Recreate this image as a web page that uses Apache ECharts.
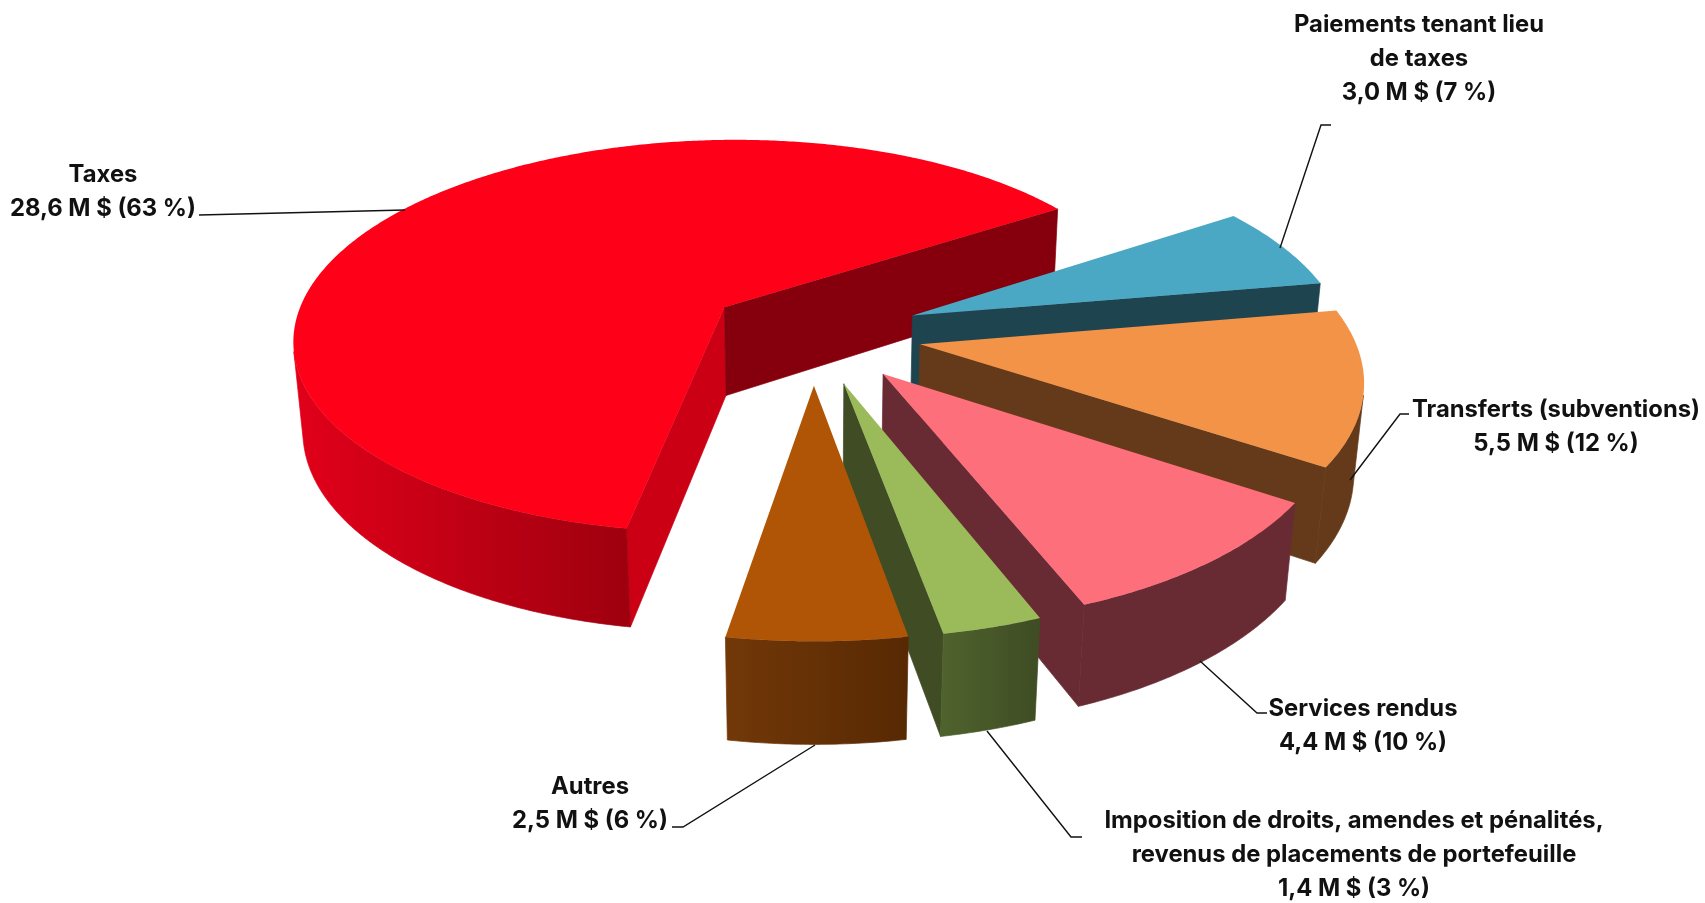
<!DOCTYPE html>
<html>
<head>
<meta charset="utf-8">
<style>
  html, body { margin: 0; padding: 0; background: #fff; }
  #chart { width: 1705px; height: 903px; }
</style>
<script src="https://cdn.jsdelivr.net/npm/echarts@6/dist/echarts.min.js"></script>
</head>
<body>
<div id="chart"></div>
<script>
// revenue breakdown, in millions of dollars
var categories = [
  "Taxes",
  "Paiements tenant lieu\nde taxes",
  "Transferts (subventions)",
  "Services rendus",
  "Imposition de droits, amendes et pénalités,\nrevenus de placements de portefeuille",
  "Autres"
];
var amounts = [28.6, 3.0, 5.5, 4.4, 1.4, 2.5];
var shares = [63, 7, 12, 10, 3, 6];

var topColors = ["#ff0019", "#4aa8c4", "#f39347", "#fd6f7b", "#9bba59", "#b05505"];
var wallColors = [
  ["#e2001a", "#9e000e"], ["#1e4450", "#1e4450"], ["#643a1a", "#643a1a"],
  ["#682a33", "#682a33"], ["#4f632d", "#3f4c24"], ["#723808", "#572903"]
];
var startCutColors = ["#cc0014", "#1e4450", "#643a1a", "#682a33", "#3f4c24", "#723808"];
var endCutColors = ["#85000c", "#1e4450", "#643a1a", "#682a33", "#3f4c24", "#572903"];

// label placement in page pixels
var labelCenters = [[103, 191.5], [1419, 59], [1556, 427], [1363, 726], [1354, 855], [590, 803.5]];
var leaders = [
  [[405, 210], [199, 215]],
  [[1280, 248], [1321, 125], [1331, 125]],
  [[1350, 480], [1400, 414], [1409, 414]],
  [[1200, 661], [1257, 713], [1267, 713]],
  [[987, 731], [1071, 837], [1082, 837]],
  [[815, 745], [683, 827], [672, 827]]
];

// camera fitted to the reference, pie radius = 1, origin = pie centre
var tilt = 27.5 * Math.PI / 180;
var camDist = 5.91;
var focal = 2558;
var principal = [813.3, 333.8];
var thickness = 0.238;
var explode = 0.25;
var startAngle = 260.4; // slices run clockwise from here

var sinT = Math.sin(tilt), cosT = Math.cos(tilt);
var cam = [0, -camDist * cosT, camDist * sinT];

function project(p) {
  var d = camDist + p[1] * cosT - p[2] * sinT;
  return [
    principal[0] + focal * p[0] / d,
    principal[1] - focal * (p[1] * sinT + p[2] * cosT) / d
  ];
}
function rad(a) { return a * Math.PI / 180; }

var total = amounts.reduce(function (s, v) { return s + v; }, 0);

function sliceAngles(i) {
  var before = 0;
  for (var k = 0; k < i; k++) before += amounts[k];
  var hi = startAngle - before / total * 360;
  return [hi, hi - amounts[i] / total * 360];
}

function facing(n, p) {
  return n[0] * (cam[0] - p[0]) + n[1] * (cam[1] - p[1]) + n[2] * (cam[2] - p[2]) > 0;
}

// walls get a hairline of their own colour so neighbouring faces leave no seam
function polygon(points, fill, hairline) {
  return {
    type: "polygon",
    shape: { points: points },
    style: { fill: fill, stroke: hairline ? fill : null, lineWidth: hairline ? 0.7 : 0 },
    silent: true
  };
}

function renderSlice(params, api) {
  var i = params.dataIndex;
  var a = sliceAngles(i);
  var mid = rad((a[0] + a[1]) / 2);
  var ox = explode * Math.cos(mid), oy = explode * Math.sin(mid);
  var children = [];

  function pt(angle, r, z) {
    return [ox + r * Math.cos(rad(angle)), oy + r * Math.sin(rad(angle)), z];
  }
  function cutWall(angle, normal, fill) {
    var tip = pt(0, 0, 0), rim = pt(angle, 1, 0);
    if (!facing(normal, tip)) return;
    children.push(polygon([
      project(tip), project(rim),
      project([rim[0], rim[1], -thickness]), project([tip[0], tip[1], -thickness])
    ], fill, true));
  }

  cutWall(a[0], [-Math.sin(rad(a[0])), Math.cos(rad(a[0])), 0], startCutColors[i]);
  cutWall(a[1], [Math.sin(rad(a[1])), -Math.cos(rad(a[1])), 0], endCutColors[i]);

  // outer wall, only the part that looks at the camera
  var steps = Math.ceil(a[0] - a[1]) * 2;
  var rimTop = [], wallTop = [], wallBottom = [];
  for (var s = 0; s <= steps; s++) {
    var ang = a[0] + (a[1] - a[0]) * s / steps;
    var p = pt(ang, 1, 0);
    rimTop.push(project(p));
    if (facing([Math.cos(rad(ang)), Math.sin(rad(ang)), 0], p)) {
      wallTop.push(project(p));
      wallBottom.unshift(project([p[0], p[1], -thickness]));
    }
  }
  if (wallTop.length > 1) {
    children.push(polygon(wallTop.concat(wallBottom), new echarts.graphic.LinearGradient(0, 0, 1, 0, [
      { offset: 0, color: wallColors[i][0] },
      { offset: 1, color: wallColors[i][1] }
    ]), true));
  }

  children.push(polygon([project(pt(0, 0, 0))].concat(rimTop), topColors[i], false));

  // leader and label
  children.push({
    type: "polyline",
    shape: { points: leaders[i] },
    style: { stroke: "#111", lineWidth: 1.4, fill: "none" },
    silent: true
  });
  var amountText = api.value(0).toFixed(1).replace(".", ",") + " M $ (" + shares[i] + " %)";
  children.push({
    type: "text",
    silent: true,
    style: {
      text: categories[i] + "\n" + amountText,
      x: labelCenters[i][0],
      y: labelCenters[i][1],
      align: "center",
      verticalAlign: "middle",
      fontFamily: "Inter",
      fontWeight: 700,
      fontSize: 23.8,
      lineHeight: 34,
      fill: "#111"
    }
  });
  return { type: "group", children: children };
}

var option = {
  backgroundColor: "#fff",
  animation: false,
  series: [{
    type: "custom",
    coordinateSystem: "none",
    renderItem: renderSlice,
    clip: false,
    data: categories.map(function (c, i) { return { name: c, value: [amounts[i]] }; })
  }]
};

var myChart = echarts.init(document.getElementById("chart"));
myChart.setOption(option);
</script>
</body>
</html>
